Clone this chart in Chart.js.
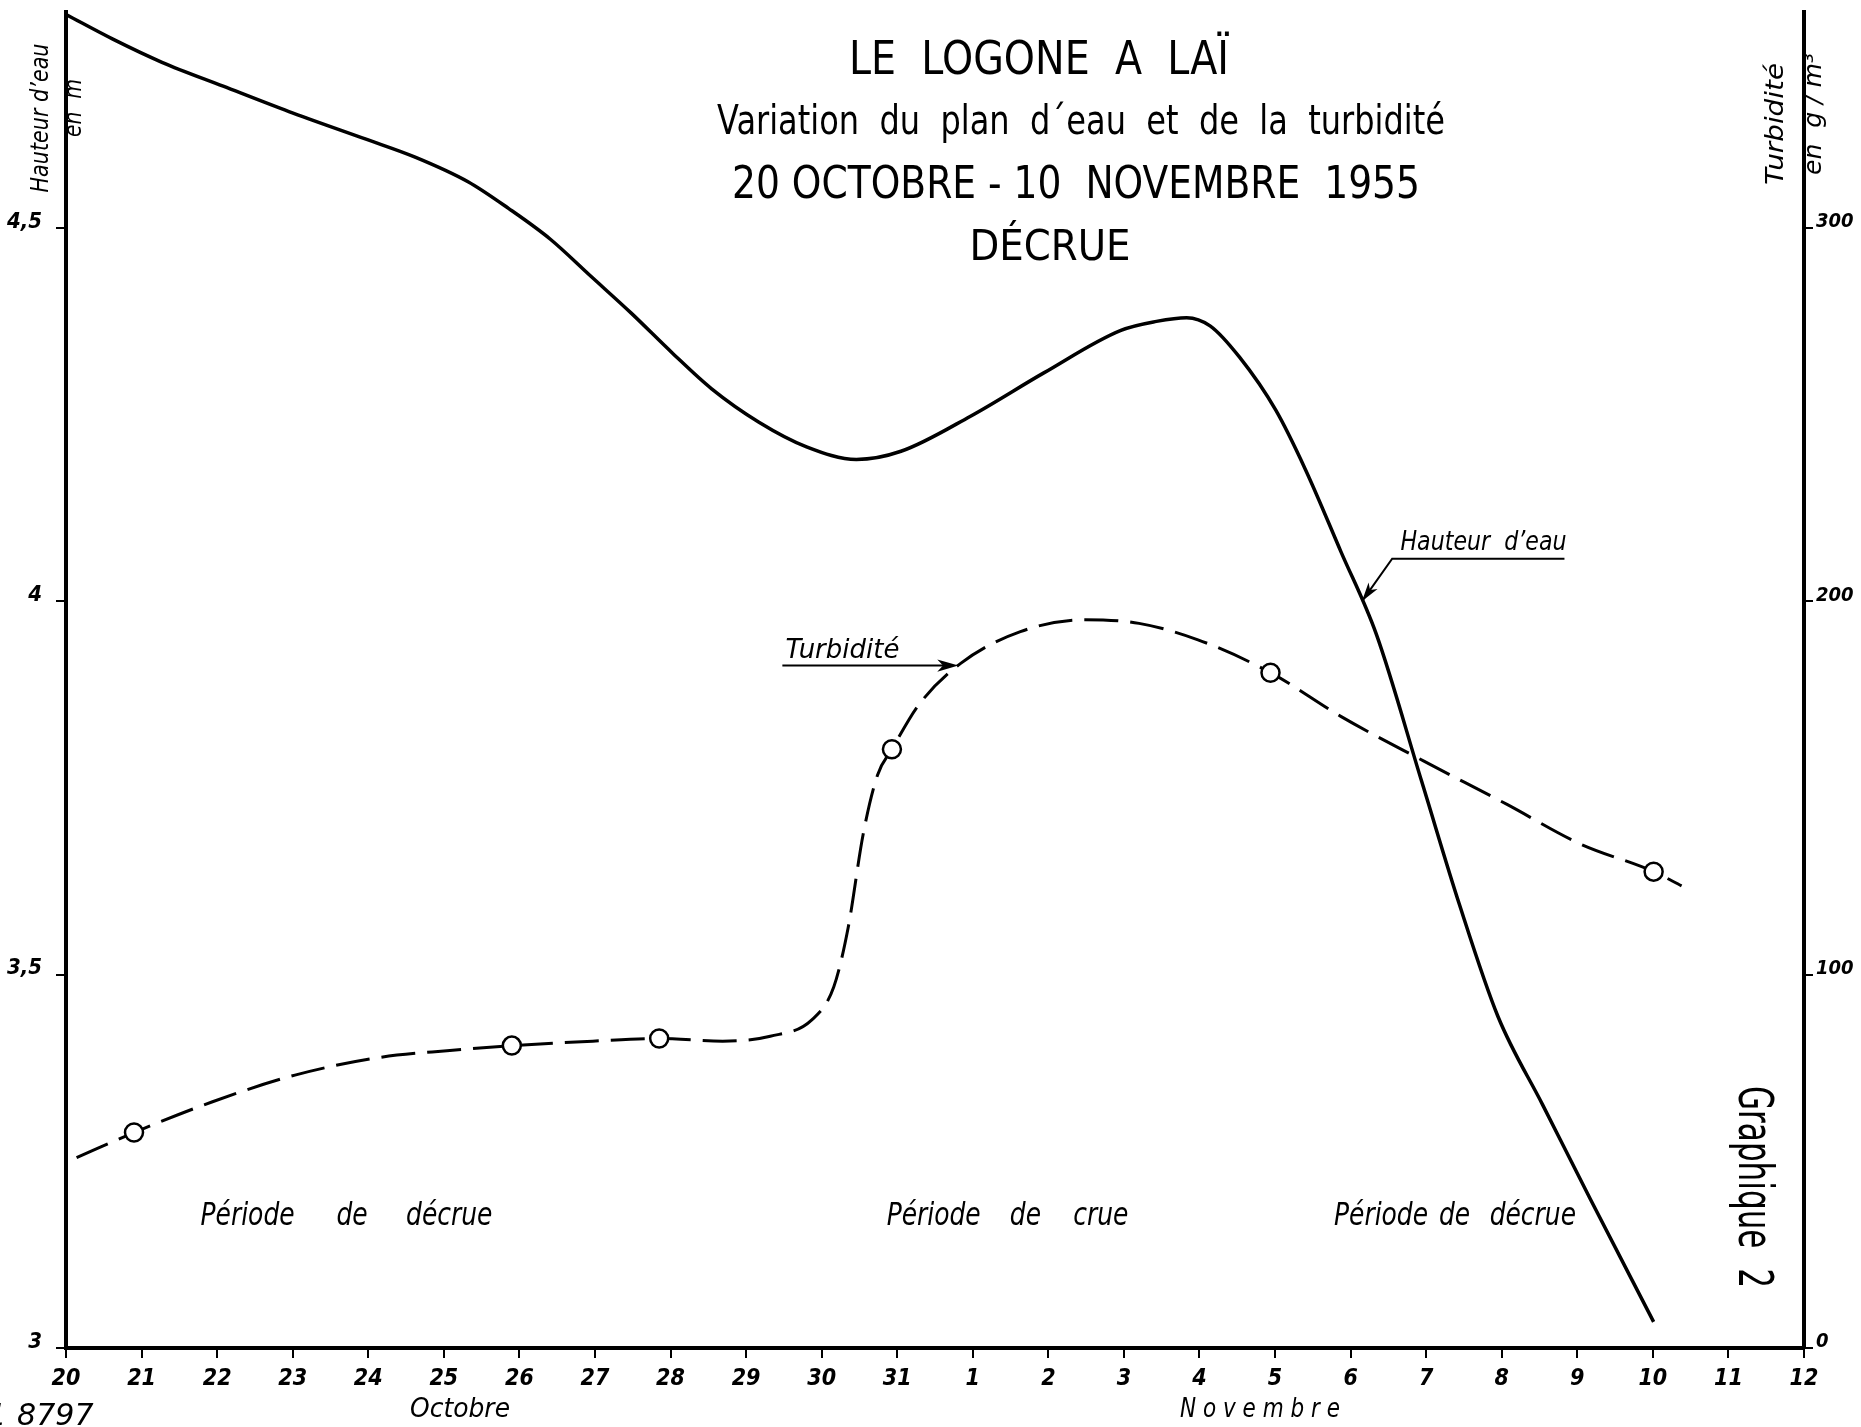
<!DOCTYPE html>
<html>
<head>
<meta charset="utf-8">
<title>Le Logone à Laï - décrue 1955</title>
<script src="https://cdn.jsdelivr.net/npm/chart.js"></script>
<style>
    html, body { margin: 0; padding: 0; background: #fff; }
    #wrap { width: 1861px; height: 1427px; }
</style>
</head>
<body>
<div id="wrap"><canvas id="chart"></canvas></div>

<script>
    // axe x : jours depuis le 20 octobre 1955 (0 = 20 oct, 12 = 1 nov, 23 = 12 nov)
    var dayLabels = ['20', '21', '22', '23', '24', '25', '26', '27', '28', '29', '30', '31',
                     '1', '2', '3', '4', '5', '6', '7', '8', '9', '10', '11', '12'];

    // hauteur d'eau (m), trait plein
    var hauteurDays   = [0, 0.62, 1.27, 2.08, 2.95, 3.97, 4.62, 5.32, 5.86, 6.41, 6.95, 7.48, 8.02,
                         8.54, 9.17, 9.80, 10.46, 11.05, 11.97, 12.94, 13.96, 14.43, 14.83, 15.14,
                         15.53, 16.01, 16.40, 16.87, 17.34, 17.94, 18.44, 18.95, 19.54, 20.17, 21.01];
    var hauteurValues = [4.786, 4.753, 4.722, 4.690, 4.656, 4.619, 4.595, 4.562, 4.526, 4.485, 4.435,
                         4.386, 4.333, 4.285, 4.240, 4.207, 4.190, 4.201, 4.248, 4.306, 4.363, 4.375,
                         4.380, 4.369, 4.327, 4.256, 4.177, 4.067, 3.956, 3.759, 3.594, 3.444, 3.326,
                         3.200, 3.035];

    // turbidité (g/m3), courbe tiretée
    var turbCurveDays   = [0.14, 0.90, 1.93, 3.03, 4.14, 5.08, 5.90, 6.97, 7.85, 8.69, 9.32, 9.87,
                           10.16, 10.35, 10.55, 10.74, 10.93, 11.29, 11.84, 12.63, 13.49, 14.20,
                           14.98, 15.94, 16.87, 17.97, 19.07, 20.02, 21.01, 21.38];
    var turbCurveValues = [51.0, 57.7, 65.9, 73.1, 77.8, 79.7, 81.0, 82.2, 82.9, 82.2, 83.5, 87.9,
                           96.7, 112.5, 137.7, 153.5, 160.4, 172.4, 183.4, 191.9, 195.1, 194.1,
                           189.7, 180.9, 169.2, 157.2, 145.6, 135.2, 127.6, 123.8];

    // prélèvements (cercles)
    var turbMeasureDays   = [0.90, 5.90, 7.85, 10.93, 15.94, 21.01];
    var turbMeasureValues = [57.7, 81.0, 82.9, 160.4, 180.9, 127.6];

    var hauteurTicks = [3, 3.5, 4, 4.5];
    var turbTicks = [0, 100, 200, 300];

    function pts(xs, ys) {
        return xs.map(function (x, i) { return { x: x, y: ys[i] }; });
    }

    var fam = '"DejaVu Sans"';
    var famCond = '"DejaVu Sans Condensed", "DejaVu Sans"';

    function arrowHead(ctx, x0, y0, x1, y1, size) {
        var a = Math.atan2(y1 - y0, x1 - x0);
        ctx.beginPath();
        ctx.moveTo(x1, y1);
        ctx.lineTo(x1 - size * Math.cos(a - 0.28), y1 - size * Math.sin(a - 0.28));
        ctx.lineTo(x1 - size * 0.7 * Math.cos(a), y1 - size * 0.7 * Math.sin(a));
        ctx.lineTo(x1 - size * Math.cos(a + 0.28), y1 - size * Math.sin(a + 0.28));
        ctx.closePath();
        ctx.fill();
    }

    // texte étiré/comprimé pour tenir dans une largeur donnée
    function fitText(ctx, text, x, y, width, angle) {
        var w = ctx.measureText(text).width;
        ctx.save();
        ctx.translate(x, y);
        if (angle) ctx.rotate(angle);
        ctx.scale(width / w, 1);
        ctx.fillText(text, 0, 0);
        ctx.restore();
    }

    function squeezeText(ctx, text, x, y, k) {
        ctx.save();
        ctx.translate(x, y);
        ctx.scale(k, 1);
        ctx.fillText(text, 0, 0);
        ctx.restore();
    }

    var textesPlugin = {
        id: 'textes',
        afterDraw: function (chart) {
            var ctx = chart.ctx;
            var sx = chart.scales.x, sy = chart.scales.y, st = chart.scales.y2;
            ctx.save();
            ctx.fillStyle = '#000';
            ctx.strokeStyle = '#000';
            ctx.textAlign = 'center';
            ctx.textBaseline = 'alphabetic';

            // titre
            ctx.font = '47px ' + fam;
            fitText(ctx, 'LE  LOGONE  A  LAÏ', 1039, 74, 380);
            ctx.font = '41px ' + fam;
            fitText(ctx, 'Variation  du  plan  d\u00b4eau  et  de  la  turbidité', 1081, 134, 728);
            ctx.font = '44px ' + fam;
            fitText(ctx, '20 OCTOBRE - 10  NOVEMBRE  1955', 1076, 198, 688);
            ctx.font = '42px ' + fam;
            fitText(ctx, 'DÉCRUE', 1050, 260, 161);

            // titres des axes
            ctx.textBaseline = 'middle';
            ctx.font = 'italic 24px ' + fam;
            fitText(ctx, 'Hauteur d\u2019eau', 42, 118, 149, -Math.PI / 2);
            fitText(ctx, 'en  m', 75, 108, 58, -Math.PI / 2);
            fitText(ctx, 'Turbidité', 1777, 124, 122, -Math.PI / 2);
            ctx.font = 'italic 25px ' + fam;
            fitText(ctx, 'en  g / m\u00b3', 1814, 114, 122, -Math.PI / 2);

            // mois
            ctx.font = 'italic 26px ' + fam;
            fitText(ctx, 'Octobre', 460, 1410, 100);
            fitText(ctx, 'N o v e m b r e', 1260, 1410, 160);
            ctx.textAlign = 'left';
            ctx.textBaseline = 'alphabetic';
            ctx.font = 'italic 31px ' + fam;
            squeezeText(ctx, '1', -13, 1425, 1);
            squeezeText(ctx, '8797', 17, 1425, 0.97);

            // périodes
            ctx.font = 'italic 32px ' + fam;
            var yb = sy.getPixelForValue(3.165);
            var mots = [['Période', 1.78], ['de', 3.58], ['décrue', 4.50],
                        ['Période', 10.86], ['de', 12.49], ['crue', 13.33],
                        ['Période', 16.78], ['de', 18.17], ['décrue', 18.84]];
            mots.forEach(function (m) {
                squeezeText(ctx, m[0], sx.getPixelForValue(m[1]), yb, 0.78);
            });

            // étiquette hauteur d'eau
            ctx.lineWidth = 2;
            var ux0 = sx.getPixelForValue(17.55), ux1 = sx.getPixelForValue(19.83);
            var uy = sy.getPixelForValue(4.057);
            ctx.font = 'italic 27px ' + fam;
            fitText(ctx, 'Hauteur  d\u2019eau', sx.getPixelForValue(17.66), uy - 9, 166);
            ctx.beginPath();
            ctx.moveTo(ux1, uy);
            ctx.lineTo(ux0, uy);
            var tx = sx.getPixelForValue(17.15), ty = sy.getPixelForValue(4.0);
            ctx.lineTo(tx, ty);
            ctx.stroke();
            arrowHead(ctx, ux0, uy, tx, ty, 20);

            // étiquette turbidité
            var vx0 = sx.getPixelForValue(9.48), vx1 = sx.getPixelForValue(11.81);
            var vy = st.getPixelForValue(182.8);
            fitText(ctx, 'Turbidité', sx.getPixelForValue(9.52), vy - 8, 114);
            ctx.beginPath();
            ctx.moveTo(vx0, vy);
            ctx.lineTo(vx1 - 10, vy);
            ctx.stroke();
            arrowHead(ctx, vx0, vy, vx1, vy, 22);

            // Graphique 2
            ctx.textAlign = 'center';
            ctx.textBaseline = 'middle';
            ctx.font = '48px ' + fam;
            fitText(ctx, 'Graphique  2', 1751, 1187, 202, Math.PI / 2);

            ctx.restore();
        }
    };

    var tickFont = { family: famCond, size: 23, style: 'italic', weight: 'bold' };

    new Chart(document.getElementById('chart'), {
        type: 'line',
        data: {
            datasets: [
                {
                    label: 'Prélèvements',
                    data: pts(turbMeasureDays, turbMeasureValues),
                    yAxisID: 'y2',
                    showLine: false,
                    pointRadius: 9,
                    pointBackgroundColor: '#fff',
                    pointBorderColor: '#000',
                    pointBorderWidth: 2.5,
                    order: 0
                },
                {
                    label: 'Turbidité',
                    data: pts(turbCurveDays, turbCurveValues),
                    yAxisID: 'y2',
                    borderColor: '#000',
                    borderWidth: 3,
                    borderDash: [34, 12],
                    pointRadius: 0,
                    cubicInterpolationMode: 'monotone',
                    fill: false,
                    order: 1
                },
                {
                    label: 'Hauteur d\u2019eau',
                    data: pts(hauteurDays, hauteurValues),
                    yAxisID: 'y',
                    borderColor: '#000',
                    borderWidth: 3.5,
                    pointRadius: 0,
                    cubicInterpolationMode: 'monotone',
                    fill: false,
                    order: 2
                }
            ]
        },
        options: {
            responsive: true,
            maintainAspectRatio: false,
            animation: false,
            layout: { padding: { top: 4, left: 0, right: 0, bottom: 0 } },
            plugins: { legend: { display: false }, tooltip: { enabled: false } },
            scales: {
                x: {
                    type: 'linear',
                    min: 0,
                    max: 23,
                    afterBuildTicks: function (s) { s.ticks = dayLabels.map(function (l, i) { return { value: i }; }); },
                    afterFit: function (s) { s.height = 79; s.paddingLeft = 0; s.paddingRight = 0; },
                    ticks: {
                        callback: function (v) { return dayLabels[v]; },
                        font: tickFont, color: '#000', maxRotation: 0, autoSkip: false, padding: 7
                    },
                    grid: { display: true, drawOnChartArea: false, drawTicks: true, tickLength: 10, color: '#000', lineWidth: 2 },
                    border: { display: true, color: '#000', width: 4 }
                },
                y: {
                    position: 'left',
                    min: 3,
                    max: 4.79,
                    afterBuildTicks: function (s) { s.ticks = hauteurTicks.map(function (v) { return { value: v }; }); },
                    afterFit: function (s) { s.width = 66; s.paddingTop = 0; s.paddingBottom = 0; },
                    ticks: {
                        callback: function (v) { return String(v).replace('.', ','); },
                        font: { family: famCond, size: 22, style: 'italic', weight: 'bold' },
                        color: '#000', padding: 14, labelOffset: -6
                    },
                    grid: { display: true, drawOnChartArea: false, drawTicks: true, tickLength: 10, color: '#000', lineWidth: 2 },
                    border: { display: true, color: '#000', width: 4 }
                },
                y2: {
                    position: 'right',
                    min: 0,
                    max: 358,
                    afterBuildTicks: function (s) { s.ticks = turbTicks.map(function (v) { return { value: v }; }); },
                    afterFit: function (s) { s.width = 57; s.paddingTop = 0; s.paddingBottom = 0; },
                    ticks: {
                        font: { family: famCond, size: 20, style: 'italic', weight: 'bold' },
                        color: '#000', padding: 3, labelOffset: -6
                    },
                    grid: { display: true, drawOnChartArea: false, drawTicks: true, tickLength: 9, color: '#000', lineWidth: 2 },
                    border: { display: true, color: '#000', width: 4 }
                }
            }
        },
        plugins: [textesPlugin]
    });
</script>
</body>
</html>
